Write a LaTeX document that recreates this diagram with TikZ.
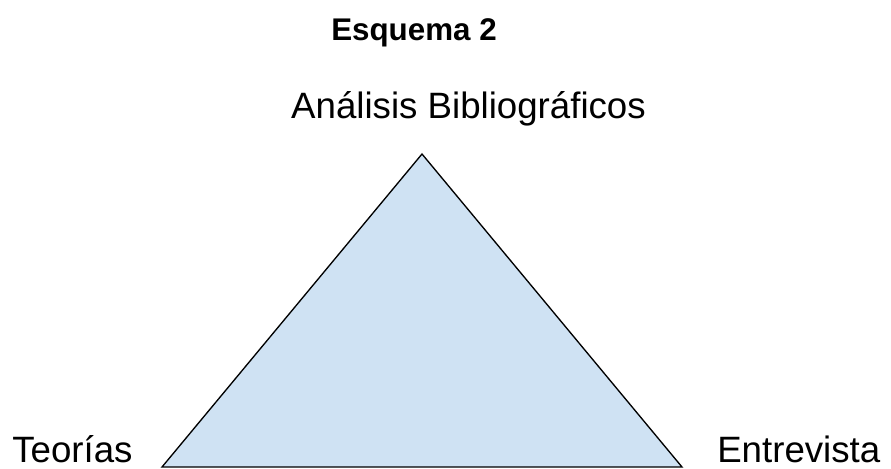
\documentclass[tikz,border=0pt]{standalone}
\usepackage{fontspec}
\setmainfont{Liberation Sans}
\definecolor{triblue}{HTML}{CFE2F3}
\begin{document}
\begin{tikzpicture}[x=0.75pt,y=-0.75pt,
  lbl/.style={inner sep=0pt,font=\fontsize{27.5}{33}\selectfont},
  ttl/.style={inner sep=0pt,font=\bfseries\fontsize{23.5}{28}\selectfont}]
\useasboundingbox (0,0) rectangle (891,468);
\coordinate (apex) at (422,154);
\coordinate (bl) at (162,467);
\coordinate (br) at (682,467);
\filldraw[fill=triblue,draw=black,line width=1pt,line join=miter] (apex) -- (br) -- (bl) -- cycle;
\node[ttl,anchor=base] (title) at (414,40) {Esquema 2};
\node[lbl,anchor=base] (top) at (468.5,118) {Análisis Bibliográficos};
\node[lbl,anchor=base west] (left) at (12,462) {Teorías};
\node[lbl,anchor=base west] (right) at (717,462) {Entrevista};
\end{tikzpicture}
\end{document}
